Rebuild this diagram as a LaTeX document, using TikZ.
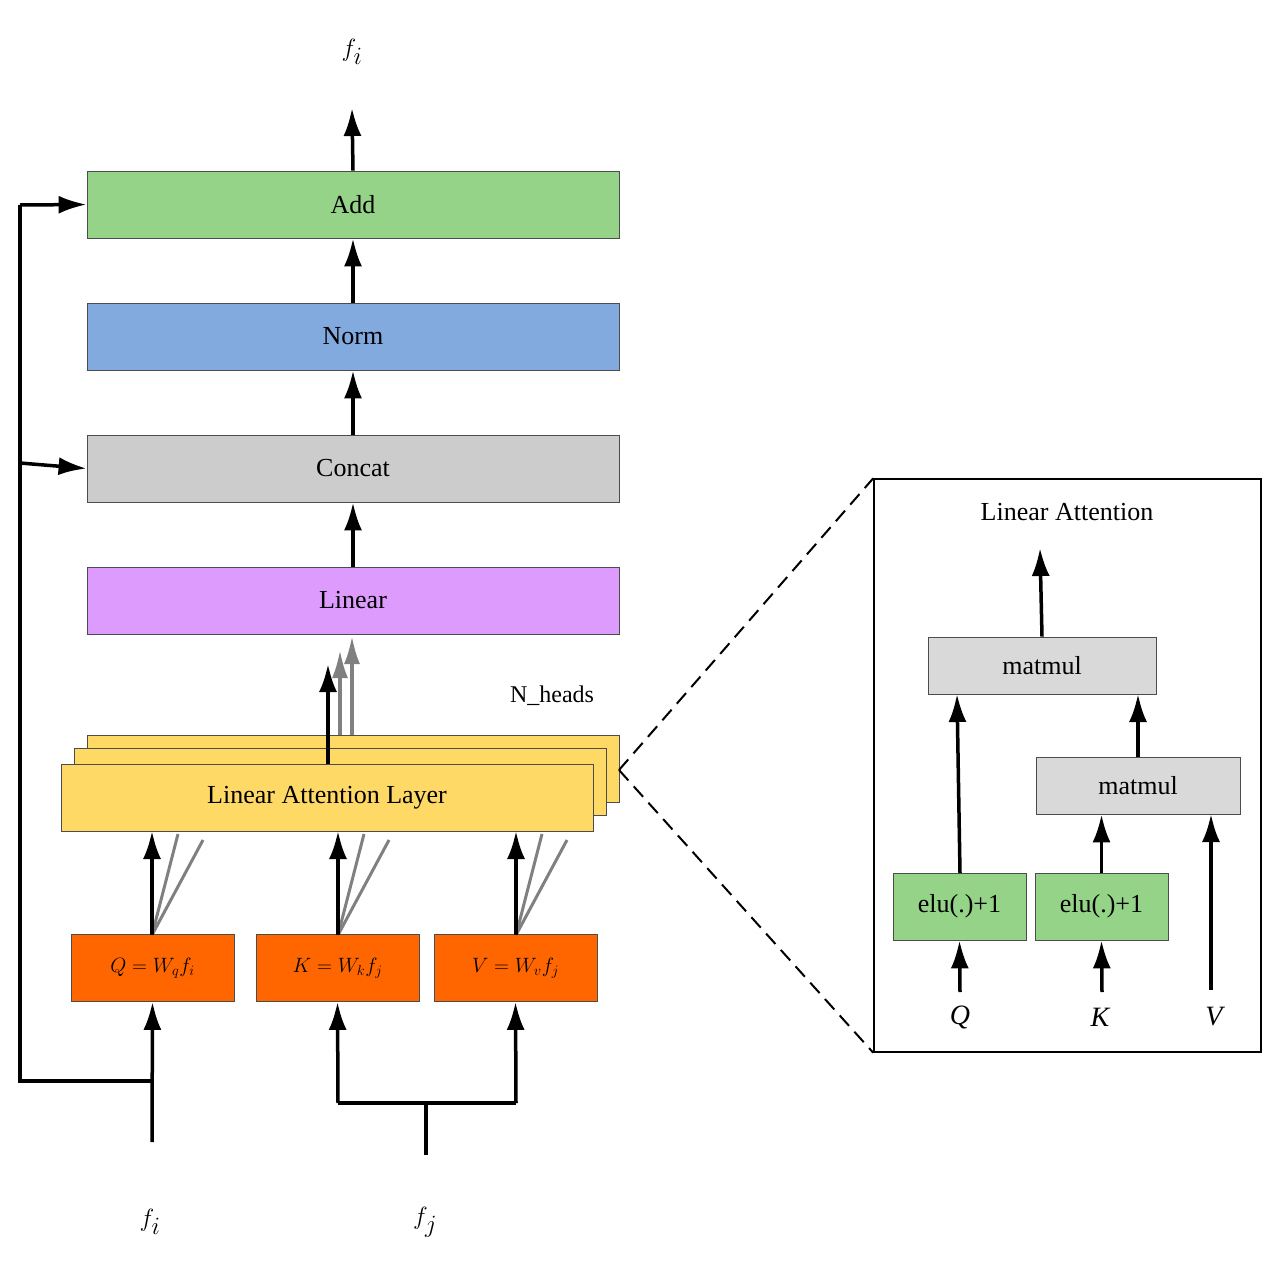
\documentclass[tikz,border=0pt]{standalone}
\usepackage{fontspec}
\setmainfont{Liberation Serif}
\usetikzlibrary{arrows.meta}
\definecolor{cadd}{HTML}{94D388}
\definecolor{cnorm}{HTML}{82AADF}
\definecolor{ccon}{HTML}{CCCCCC}
\definecolor{clin}{HTML}{DD9CFD}
\definecolor{clal}{HTML}{FFD966}
\definecolor{cqkv}{HTML}{FF6600}
\definecolor{cmm}{HTML}{D9D9D9}
\begin{document}
\begin{tikzpicture}[x=1pt,y=-1pt,
 box/.style={draw=black!70,line width=0.8pt,minimum height=67pt,inner sep=0pt,font=\fontsize{26}{30}\selectfont},
 big/.style={minimum width=532pt},
 arr/.style={line width=3.5pt,-{Latex[length=28pt,width=18pt]}},
 ln/.style={line width=3.5pt},
 garr/.style={line width=3.5pt,gray,-{Latex[length=28pt,width=16pt]}},
 gl/.style={line width=3pt,gray}]
\useasboundingbox (0,0) rectangle (1277,1277);
\node[box,big,fill=cadd] (add) at (353,204.5) {Add};
\node[box,big,fill=cnorm] (norm) at (353,336.5) {Norm};
\node[box,big,fill=ccon] (concat) at (353,468.5) {Concat};
\node[box,big,fill=clin] (lin) at (353,600.5) {Linear};
\node[box,big,fill=clal] (lal3) at (353,768.5) {};
\node[box,big,fill=clal] (lal2) at (340,781.5) {};
\node[box,big,fill=clal] (lal) at (327,797.5) {Linear Attention Layer};
\node[box,minimum width=163pt,fill=cqkv,font=\fontsize{20}{24}\selectfont] (q) at (152.5,968) {$Q=W_q f_i$};
\node[box,minimum width=163pt,fill=cqkv,font=\fontsize{20}{24}\selectfont] (k) at (337.5,968) {$K=W_k f_j$};
\node[box,minimum width=163pt,fill=cqkv,font=\fontsize{20}{24}\selectfont] (v) at (515.5,968) {$V=W_v f_j$};
\node[font=\fontsize{60}{60}\selectfont] (fo) at (352,52) {$f_i$};
\node[font=\fontsize{60}{60}\selectfont] (fi) at (150,1222) {$f_i$};
\node[font=\fontsize{60}{60}\selectfont] (fj) at (425,1222) {$f_j$};
\node[font=\fontsize{24}{28}\selectfont] (nh) at (552,696) {N\_heads};
% main arrows
\draw[arr] (add.north) -- (352,108);
\draw[arr] (norm.north) -- (add.south);
\draw[arr] (concat.north) -- (norm.south);
\draw[arr] (lin.north) -- (concat.south);
\coordinate (lt) at (328,764);
\draw[garr] (352,735) -- (352,636);
\draw[garr] (340,735) -- (340,650);
\draw[arr] (lt) -- (328,664);
% skip bus
\coordinate (b1) at (152,1081);
\coordinate (b0) at (20,1081);
\draw[ln] (b1) -- (b0) -- (20,205);
\draw[arr] (20,205) -- (add.west);
\draw[arr] (20,463) -- (concat.west);
\draw[arr] (152,1142) -- (q.south);
\coordinate (jb) at (426,1103);
\draw[ln] (426,1155) -- (jb);
\draw[ln] (338,1103) -- (516,1103);
\draw[arr] (338,1103) -- (k.south);
\draw[arr] (516,1103) -- (v.south);
% to LAL
\foreach \n/\x in {q/152,k/338,v/516}{
 \draw[gl] (\x,935) -- (\x+26,834);
 \draw[gl] (\x,935) -- (\x+51,840);
 \draw[arr] (\x,935) -- (\x,831);
}
% right panel
\node[draw,line width=1.5pt,minimum width=387pt,minimum height=573pt,inner sep=0pt] (panel) at (1067.5,765.5) {};
\draw[dashed,line width=2pt,dash pattern=on 14pt off 8pt] (619,770) -- (panel.north west);
\draw[dashed,line width=2pt,dash pattern=on 14pt off 8pt] (619,770) -- (panel.south west);
\node[font=\fontsize{26}{30}\selectfont] (lat) at (1067,512) {Linear Attention};
\node[box,minimum width=228pt,minimum height=57pt,fill=cmm] (m1) at (1042,665.5) {matmul};
\node[box,minimum width=204pt,minimum height=57pt,fill=cmm] (m2) at (1138,785.5) {matmul};
\node[box,minimum width=133pt,fill=cadd] (e1) at (959.5,906.5) {elu(.)+1};
\node[box,minimum width=133pt,fill=cadd] (e2) at (1101.5,906.5) {elu(.)+1};
\node[font=\itshape\fontsize{28}{30}\selectfont] (Q) at (960,1017) {Q};
\node[font=\itshape\fontsize{28}{30}\selectfont] (K) at (1100,1017) {K};
\node[font=\itshape\fontsize{28}{30}\selectfont] (V) at (1214,1017) {V};
\draw[arr] (m1.north) -- (1040,548);
\draw[arr] (960,873) -- (957,694);
\draw[arr] (m2.north) -- (1138,694);
\draw[arr] (e2.north) -- (m2.south -| e2.north);
\draw[arr] (1211,990) -- (1211,814);
\draw[arr] (960,992) -- (e1.south);
\draw[arr] (1102,992) -- (e2.south);
\end{tikzpicture}
\end{document}
